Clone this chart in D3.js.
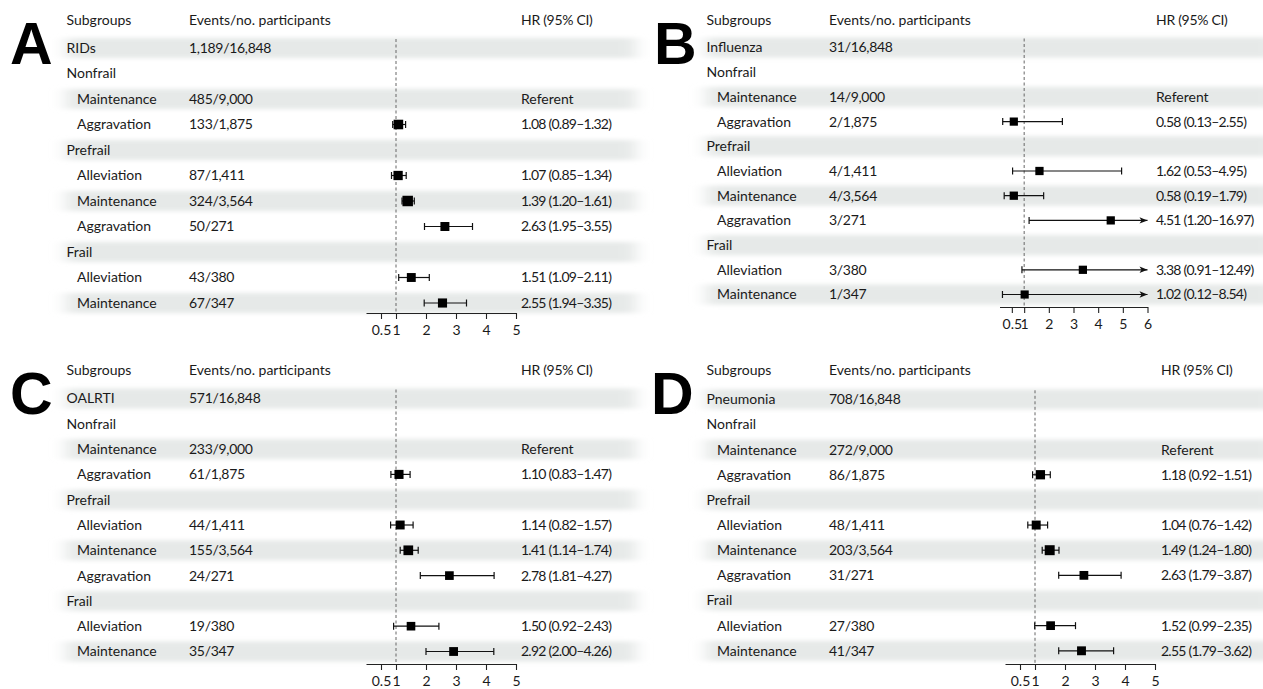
<!DOCTYPE html>
<html>
<head>
<meta charset="utf-8">
<script src="https://cdn.jsdelivr.net/npm/d3@7"></script>
<style>
  html, body { margin: 0; padding: 0; background: #fff; }
  svg { display: block; }
  text { font-family: Lato, "Noto Sans", sans-serif; fill: #1a1a1a; }
</style>
</head>
<body>
<svg id="chart" width="1263" height="689"></svg>
<script>
// Row labels shared by all four panels (first row is the outcome total)
const subgroupLabels = ["Nonfrail", "Maintenance", "Aggravation", "Prefrail", "Alleviation",
                        "Maintenance", "Aggravation", "Frail", "Alleviation", "Maintenance"];
const isGroupHeading = [true, false, false, true, false, false, false, true, false, false];
const isReferent     = [false, true, false, false, false, false, false, false, false, false];

// A: respiratory infectious diseases
const ridsEvents = ["", "485/9,000", "133/1,875", "", "87/1,411", "324/3,564", "50/271", "", "43/380", "67/347"];
const ridsHR   = [null, null, 1.08, null, 1.07, 1.39, 2.63, null, 1.51, 2.55];
const ridsLow  = [null, null, 0.89, null, 0.85, 1.20, 1.95, null, 1.09, 1.94];
const ridsHigh = [null, null, 1.32, null, 1.34, 1.61, 3.55, null, 2.11, 3.35];

// B: influenza
const fluEvents = ["", "14/9,000", "2/1,875", "", "4/1,411", "4/3,564", "3/271", "", "3/380", "1/347"];
const fluHR   = [null, null, 0.58, null, 1.62, 0.58, 4.51, null, 3.38, 1.02];
const fluLow  = [null, null, 0.13, null, 0.53, 0.19, 1.20, null, 0.91, 0.12];
const fluHigh = [null, null, 2.55, null, 4.95, 1.79, 16.97, null, 12.49, 8.54];

// C: other acute lower respiratory tract infections
const oalrtiEvents = ["", "233/9,000", "61/1,875", "", "44/1,411", "155/3,564", "24/271", "", "19/380", "35/347"];
const oalrtiHR   = [null, null, 1.10, null, 1.14, 1.41, 2.78, null, 1.50, 2.92];
const oalrtiLow  = [null, null, 0.83, null, 0.82, 1.14, 1.81, null, 0.92, 2.00];
const oalrtiHigh = [null, null, 1.47, null, 1.57, 1.74, 4.27, null, 2.43, 4.26];

// D: pneumonia
const pneuEvents = ["", "272/9,000", "86/1,875", "", "48/1,411", "203/3,564", "31/271", "", "27/380", "41/347"];
const pneuHR   = [null, null, 1.18, null, 1.04, 1.49, 2.63, null, 1.52, 2.55];
const pneuLow  = [null, null, 0.92, null, 0.76, 1.24, 1.79, null, 0.99, 1.79];
const pneuHigh = [null, null, 1.51, null, 1.42, 1.80, 3.87, null, 2.35, 3.62];

const ticksFive = [0.5, 1, 2, 3, 4, 5];
const ticksSix  = [0.5, 1, 2, 3, 4, 5, 6];

const headers = ["Subgroups", "Events/no. participants", "HR (95% CI)"];

const panels = [
  { letter: "A", outcome: "RIDs", total: "1,189/16,848", events: ridsEvents, hr: ridsHR, lo: ridsLow, hi: ridsHigh, ticks: ticksFive,
    box: { x: 0, letterX: 10, headerY: 20, row1: 48, pitch: 25.5, axisY: 313, hrX: 521, x0: 366, x1: 516, xMax: 5 } },
  { letter: "B", outcome: "Influenza", total: "31/16,848", events: fluEvents, hr: fluHR, lo: fluLow, hi: fluHigh, ticks: ticksSix,
    box: { x: 640, letterX: 654, headerY: 20, row1: 47.5, pitch: 24.7, axisY: 307, hrX: 1156, x0: 999.5, x1: 1147.5, xMax: 6 } },
  { letter: "C", outcome: "OALRTI", total: "571/16,848", events: oalrtiEvents, hr: oalrtiHR, lo: oalrtiLow, hi: oalrtiHigh, ticks: ticksFive,
    box: { x: 0, letterX: 10, headerY: 370, row1: 398.5, pitch: 25.3, axisY: 664, hrX: 521, x0: 366, x1: 516, xMax: 5 } },
  { letter: "D", outcome: "Pneumonia", total: "708/16,848", events: pneuEvents, hr: pneuHR, lo: pneuLow, hi: pneuHigh, ticks: ticksFive,
    box: { x: 640, letterX: 651, headerY: 370, row1: 399.3, pitch: 25.15, axisY: 664, hrX: 1161, x0: 1005, x1: 1155, xMax: 5 } }
];

const svg = d3.select("#chart");
const defs = svg.append("defs");
defs.append("filter").attr("id", "soft").attr("x", "-10%").attr("y", "-60%").attr("width", "120%").attr("height", "220%")
  .append("feGaussianBlur").attr("stdDeviation", "8 2.2");
defs.append("marker").attr("id", "arrow").attr("viewBox", "0 0 10 10")
  .attr("refX", 10).attr("refY", 5).attr("markerWidth", 9).attr("markerHeight", 8)
  .attr("markerUnits", "userSpaceOnUse").attr("orient", "auto")
  .append("path").attr("d", "M0,1 L10,5 L0,9 L2.5,5 Z").attr("fill", "#111");

const fmt = d3.format(".2f");
const sizeScale = d3.scaleSqrt().domain([0, 330]).range([8, 10.5]).clamp(true);
const textSize = "14px";

panels.forEach(p => {
  const b = p.box;
  const g = svg.append("g");
  const x = d3.scaleLinear().domain([0, b.xMax]).range([b.x0, b.x1]);
  const rowY = i => b.row1 + i * b.pitch;   // i = 0 is the outcome total row
  const nRows = subgroupLabels.length + 1;

  // alternating shaded bands
  g.append("g").attr("filter", "url(#soft)")
    .selectAll("rect").data(d3.range(0, nRows, 2)).join("rect")
    .attr("x", b.x + 66).attr("width", 570)
    .attr("y", i => rowY(i) - 10).attr("height", 20)
    .attr("fill", "#e6e9e8");

  // panel letter
  g.append("text").attr("x", b.letterX).attr("y", b.headerY + 44)
    .style("font-family", "'Liberation Sans', Arial, sans-serif")
    .style("font-weight", "bold").style("font-size", "59px").style("fill", "#000")
    .text(p.letter);

  // column headers
  const colX = [b.x + 66.5, b.x + 189, b.hrX];
  g.selectAll("text.hdr").data(headers).join("text").attr("class", "hdr")
    .attr("x", (d, i) => colX[i]).attr("y", b.headerY).attr("dy", "0.35em")
    .style("font-size", textSize)
    .style("letter-spacing", (d, i) => i === 2 ? "-0.3px" : "0px")
    .text(d => d);

  // outcome total row
  g.append("text").attr("x", b.x + 66.5).attr("y", rowY(0)).attr("dy", "0.35em")
    .style("font-size", textSize).text(p.outcome);
  g.append("text").attr("x", b.x + 189).attr("y", rowY(0)).attr("dy", "0.35em")
    .style("font-size", textSize).style("letter-spacing", "-0.3px").text(p.total);

  const rows = subgroupLabels.map((label, i) => ({
    label, heading: isGroupHeading[i], referent: isReferent[i],
    events: p.events[i], hr: p.hr[i], lo: p.lo[i], hi: p.hi[i], y: rowY(i + 1)
  }));

  g.selectAll("text.lab").data(rows).join("text").attr("class", "lab")
    .attr("x", d => b.x + (d.heading ? 66.5 : 77)).attr("y", d => d.y).attr("dy", "0.35em")
    .style("font-size", textSize).text(d => d.label);

  g.selectAll("text.ev").data(rows.filter(d => d.events)).join("text").attr("class", "ev")
    .attr("x", b.x + 189).attr("y", d => d.y).attr("dy", "0.35em")
    .style("font-size", textSize).style("letter-spacing", "-0.3px").text(d => d.events);

  g.selectAll("text.hr").data(rows.filter(d => d.referent || d.hr != null)).join("text").attr("class", "hr")
    .attr("x", b.hrX).attr("y", d => d.y).attr("dy", "0.35em")
    .style("font-size", textSize)
    .style("letter-spacing", d => d.referent ? "0px" : "-0.75px")
    .text(d => d.referent ? "Referent" : `${fmt(d.hr)} (${fmt(d.lo)}\u2013${fmt(d.hi)})`);

  // reference line at HR = 1
  g.append("line").attr("x1", x(1)).attr("x2", x(1))
    .attr("y1", rowY(0) - 9).attr("y2", b.axisY)
    .attr("stroke", "#666").attr("stroke-width", 1).attr("stroke-dasharray", "3,2.5");

  // confidence intervals
  const est = rows.filter(d => d.hr != null);
  const ci = g.selectAll("g.ci").data(est).join("g").attr("class", "ci");
  ci.append("line")
    .attr("x1", d => x(d.lo)).attr("x2", d => x(Math.min(d.hi, b.xMax)))
    .attr("y1", d => d.y).attr("y2", d => d.y)
    .attr("stroke", "#111").attr("stroke-width", 1.2)
    .attr("marker-end", d => d.hi > b.xMax ? "url(#arrow)" : null);
  ci.append("line")
    .attr("x1", d => x(d.lo)).attr("x2", d => x(d.lo))
    .attr("y1", d => d.y - 3.5).attr("y2", d => d.y + 3.5)
    .attr("stroke", "#111").attr("stroke-width", 1.2);
  ci.filter(d => d.hi <= b.xMax).append("line")
    .attr("x1", d => x(d.hi)).attr("x2", d => x(d.hi))
    .attr("y1", d => d.y - 3.5).attr("y2", d => d.y + 3.5)
    .attr("stroke", "#111").attr("stroke-width", 1.2);
  ci.append("rect")
    .each(function (d) { d.s = sizeScale(+d.events.split("/")[0]); })
    .attr("width", d => d.s).attr("height", d => d.s)
    .attr("x", d => x(d.hr) - d.s / 2).attr("y", d => d.y - d.s / 2)
    .attr("fill", "#000");

  // hazard-ratio axis
  const axis = d3.axisBottom(x).tickValues(p.ticks)
    .tickFormat(d => d === 0.5 ? "0.5" : d3.format("d")(d))
    .tickSizeInner(6).tickSizeOuter(0);
  const ax = g.append("g").attr("transform", `translate(0,${b.axisY})`).call(axis);
  ax.select(".domain").attr("stroke", "#222").attr("stroke-width", 1.1);
  ax.selectAll(".tick line").attr("stroke", "#222").attr("stroke-width", 1.1);
  ax.selectAll(".tick text").attr("y", 12)
    .style("font-family", "Lato, 'Noto Sans', sans-serif").style("font-size", textSize).style("fill", "#1a1a1a");
});
</script>
</body>
</html>
